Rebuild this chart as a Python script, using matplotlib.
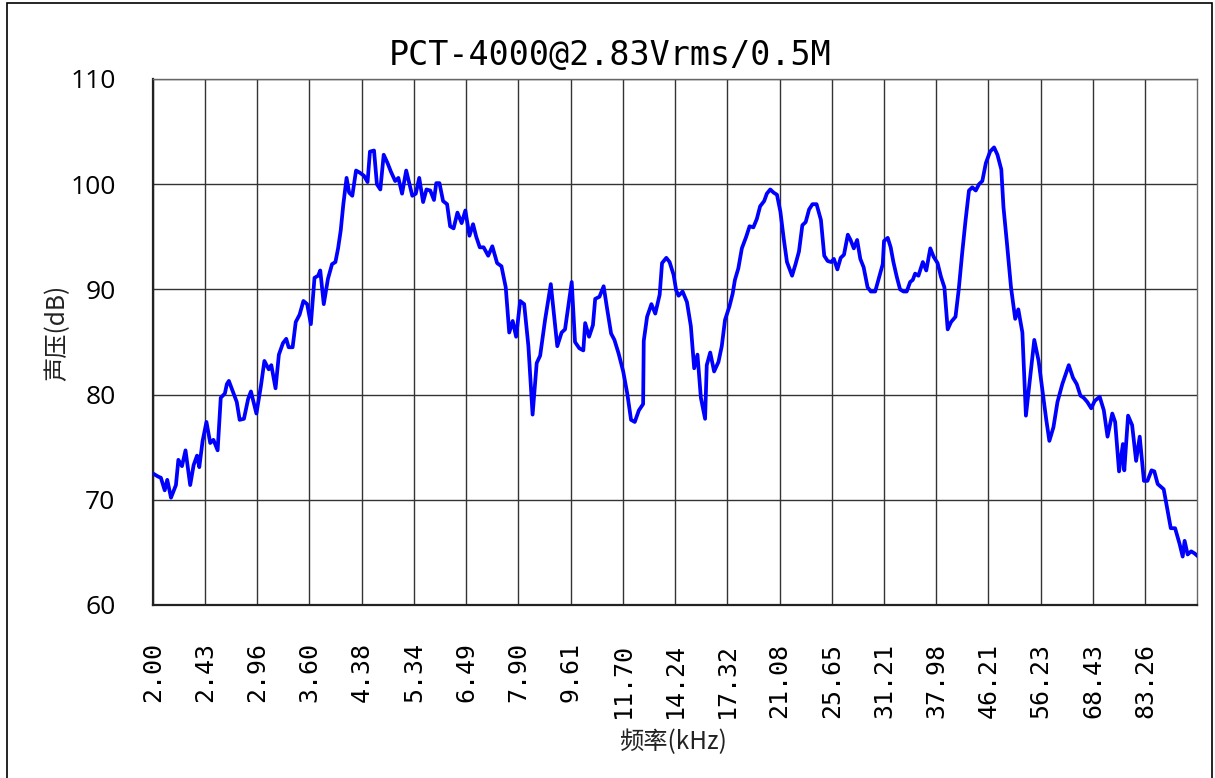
import numpy as np
import matplotlib
matplotlib.use("Agg")
import matplotlib.pyplot as plt
from matplotlib.patches import Rectangle

# Frequency response (kHz, dB)
freq_khz = [
    2.00, 2.04, 2.06, 2.09, 2.11, 2.14, 2.18, 2.20, 2.23, 2.26, 2.30, 2.33, 2.36, 2.38, 2.41,
    2.445, 2.48, 2.51, 2.55, 2.58, 2.62, 2.64, 2.66, 2.74, 2.77, 2.815, 2.86, 2.89, 2.95,
    3.00, 3.04, 3.09, 3.12, 3.17, 3.21, 3.26, 3.30, 3.33, 3.38, 3.42, 3.47, 3.52, 3.57,
    3.62, 3.67, 3.72, 3.75, 3.80, 3.86, 3.92, 3.97, 4.01, 4.05, 4.09, 4.14, 4.18, 4.23, 4.29, 4.35,
    4.42, 4.48, 4.52, 4.59, 4.64, 4.70, 4.76, 4.83, 4.89, 4.97, 5.03, 5.10, 5.18, 5.23, 5.30,
    5.37, 5.44, 5.52, 5.59, 5.67, 5.75, 5.80, 5.87, 5.95, 6.04, 6.11, 6.19, 6.28, 6.38, 6.47,
    6.57, 6.66, 6.74, 6.83, 6.93, 7.05, 7.16, 7.29, 7.41, 7.53, 7.63, 7.73, 7.83,
    7.95, 8.07, 8.20, 8.33, 8.46, 8.57, 8.73, 8.92, 9.14, 9.29, 9.41,
    9.65, 9.77, 9.93, 10.08, 10.15, 10.30, 10.45, 10.54, 10.71, 10.88, 11.02, 11.19, 11.33, 11.51,
    11.71, 11.89, 12.06, 12.23, 12.42, 12.62, 12.65, 12.81, 13.02, 13.21, 13.43, 13.55, 13.77, 13.94, 14.15,
    14.29, 14.42, 14.64, 14.88, 15.10, 15.29, 15.48, 15.68, 15.93, 16.03, 16.24, 16.48, 16.75, 16.96, 17.17,
    17.46, 17.67, 17.82, 18.05, 18.29, 18.59, 18.83, 19.10, 19.35, 19.59, 19.89, 20.09, 20.35, 20.61, 20.87,
    21.14, 21.40, 21.67, 22.09, 22.38, 22.67, 22.96, 23.25, 23.55, 23.85, 24.22, 24.62, 24.93, 25.25, 25.59,
    25.85, 26.19, 26.52, 26.85, 27.24, 27.52, 27.86, 28.21, 28.55, 28.91, 29.34, 29.70, 30.19, 30.55, 31.06,
    31.21, 31.65, 32.00, 32.33, 32.74, 33.15, 33.58, 33.99, 34.43, 34.77, 35.08, 35.52, 36.11, 36.58, 37.14, 37.61,
    38.17, 38.66, 39.16, 39.65, 40.15, 40.83, 41.33, 41.86, 42.39, 42.95, 43.49, 44.06, 44.60, 45.16, 45.76,
    46.5, 47.2, 47.8, 48.5, 48.9, 49.5, 50.3, 51.1, 51.7, 52.5, 53.2, 53.9, 54.9, 55.8,
    56.7, 57.4, 58.1, 59.0, 59.9, 61.0, 62.5, 63.5, 64.4, 65.3, 66.1, 67.0, 68.0,
    68.9, 70.2, 71.3, 72.3, 73.6, 74.4, 75.5, 76.6, 77.0, 78.1, 79.3, 80.5, 81.6, 82.9,
    84.0, 85.3, 86.2, 87.3, 89.3, 90.6, 91.7, 93.2, 94.8, 95.9, 96.6, 97.7, 99.0, 100.3, 101.2,
]
spl_db = [
    72.5, 72.2, 72.1, 70.9, 71.9, 70.2, 71.4, 73.8, 73.2, 74.7, 71.4, 73.3, 74.2, 73.1, 75.6,
    77.4, 75.4, 75.7, 74.7, 79.7, 80.1, 81.0, 81.3, 79.3, 77.6, 77.7, 79.6, 80.3, 78.2,
    80.8, 83.2, 82.4, 82.8, 80.6, 83.8, 84.9, 85.3, 84.5, 84.5, 86.9, 87.6, 88.9, 88.6,
    86.7, 91.1, 91.3, 91.8, 88.6, 91.0, 92.4, 92.6, 93.9, 95.6, 98.1, 100.6, 99.2, 98.9, 101.3, 101.1,
    100.8, 100.2, 103.1, 103.2, 100.0, 99.5, 102.8, 102.0, 101.2, 100.3, 100.6, 99.1, 101.3, 100.3, 98.9,
    99.1, 100.6, 98.3, 99.5, 99.4, 98.5, 100.1, 100.1, 98.4, 98.1, 96.0, 95.8, 97.3, 96.3, 97.5,
    95.1, 96.2, 95.0, 94.0, 94.0, 93.2, 94.1, 92.5, 92.2, 90.2, 85.9, 87.0, 85.5,
    88.9, 88.6, 84.6, 78.1, 83.0, 83.7, 87.1, 90.5, 84.6, 85.9, 86.2,
    90.7, 85.0, 84.4, 84.2, 86.8, 85.5, 86.6, 89.1, 89.3, 90.3, 88.2, 85.8, 85.2, 83.9,
    82.2, 80.1, 77.6, 77.4, 78.5, 79.1, 85.1, 87.4, 88.6, 87.7, 89.5, 92.5, 93.0, 92.6, 91.4,
    89.9, 89.4, 89.8, 88.8, 86.5, 82.5, 83.8, 79.7, 77.7, 82.8, 84.0, 82.2, 83.1, 84.6, 87.1,
    88.4, 89.6, 90.9, 92.0, 93.9, 95.0, 96.0, 95.9, 96.7, 97.9, 98.4, 99.1, 99.5, 99.2, 99.0,
    97.4, 94.9, 92.6, 91.3, 92.4, 93.6, 96.1, 96.4, 97.6, 98.1, 98.1, 96.6, 93.2, 92.7, 92.6,
    92.9, 91.9, 93.0, 93.3, 95.2, 94.7, 93.9, 94.7, 92.9, 92.1, 90.2, 89.8, 89.8, 90.9, 92.4,
    94.6, 94.9, 94.0, 92.6, 91.2, 90.0, 89.8, 89.8, 90.7, 90.9, 91.5, 91.3, 92.6, 91.8, 93.9, 93.1,
    92.5, 91.2, 90.2, 86.2, 86.9, 87.4, 90.0, 93.4, 96.5, 99.4, 99.7, 99.4, 100.0, 100.3, 102.0,
    103.1, 103.5, 102.8, 101.4, 97.8, 94.6, 90.2, 87.2, 88.1, 85.9, 78.0, 81.0, 85.2, 83.2,
    80.1, 77.7, 75.6, 76.9, 79.3, 81.0, 82.8, 81.6, 81.0, 79.9, 79.7, 79.3, 78.7,
    79.4, 79.8, 78.5, 76.0, 78.2, 77.4, 72.7, 75.3, 72.8, 78.0, 77.1, 73.7, 76.0, 71.8,
    71.8, 72.8, 72.7, 71.5, 71.0, 69.0, 67.3, 67.3, 65.8, 64.6, 66.1, 64.8, 65.1, 64.9, 64.7,
]

tick_freqs = [2.00, 2.43, 2.96, 3.60, 4.38, 5.34, 6.49, 7.90, 9.61, 11.70,
              14.24, 17.32, 21.08, 25.65, 31.21, 37.98, 46.21, 56.23, 68.43, 83.26]
db_ticks = [60, 70, 80, 90, 100, 110]

cjk = ['Noto Sans CJK SC', 'DejaVu Sans']

fig = plt.figure(figsize=(12.15, 7.78), dpi=100)
ax = fig.add_axes([153 / 1215, 173 / 778, 1044 / 1215, 526 / 778])

ax.plot(freq_khz, spl_db, color='#0000FF', linewidth=2.7, zorder=3)

ax.set_xscale('log')
ax.set_xlim(2.0, 101.2)
ax.set_ylim(60, 110)
ax.set_xticks(tick_freqs)
ax.set_xticklabels(['%.2f' % f for f in tick_freqs], rotation=90,
                   family='DejaVu Sans Mono', fontsize=18)
ax.xaxis.set_minor_locator(matplotlib.ticker.NullLocator())
ax.set_yticks(db_ticks)
ax.set_yticklabels([str(v) for v in db_ticks], family='Open Sans', fontsize=19)
ax.tick_params(axis='x', length=0, pad=27)
ax.tick_params(axis='y', length=0, pad=27)

ax.grid(True, color='#333333', linewidth=1.0)
for side in ['top', 'right']:
    ax.spines[side].set_color('#666666')
    ax.spines[side].set_linewidth(1.0)
for side in ['left', 'bottom']:
    ax.spines[side].set_color('#222222')
    ax.spines[side].set_linewidth(1.6)

fig.text(673 / 1215, 1 - 742 / 778, '频率(kHz)', ha='center', va='center',
         family=cjk, fontsize=17.5, color='#222222')
fig.text(57 / 1215, 1 - 333 / 778, '声压(dB)', rotation=90, ha='center', va='center',
         family=cjk, fontsize=17.5, color='#222222')

fig.text(610 / 1215, 1 - 55 / 778, 'PCT-4000@2.83Vrms/0.5M', ha='center', va='center',
         family='DejaVu Sans Mono', fontsize=24)

# Outer frame around the whole chart (bottom edge falls just off the image)
fig.patches.append(Rectangle((7 / 1215, -2 / 778), 1205 / 1215, 777 / 778, transform=fig.transFigure,
                             fill=False, edgecolor='black', linewidth=1.2))

fig.savefig('out.png', dpi=100)
